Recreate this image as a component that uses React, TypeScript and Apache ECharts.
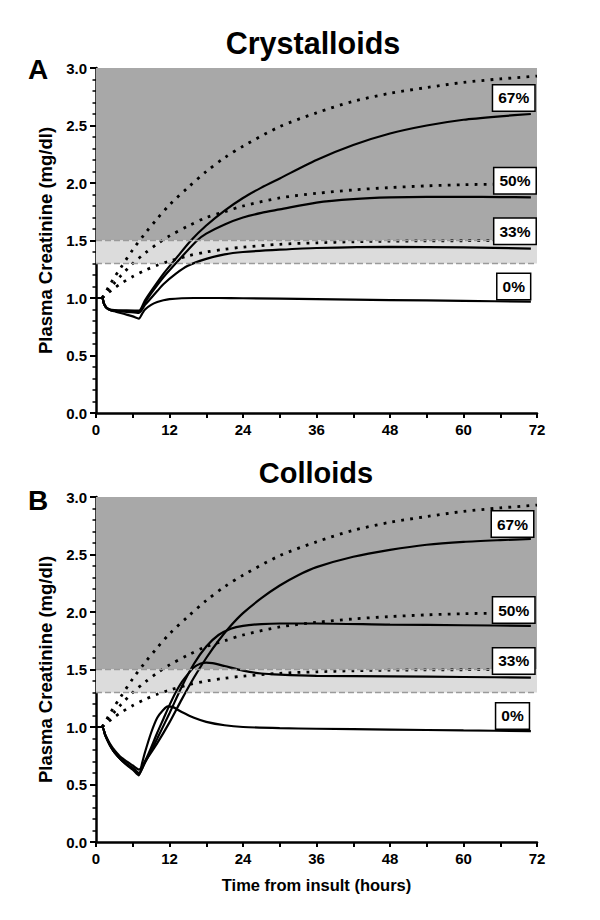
import React, { useEffect, useRef } from "react";
import * as echarts from "echarts";

// ---------- Data ----------
const xTicksLabelEvery = 12;

// Dotted reference curves (same for both panels): [time, creatinine]
const dotted67: number[][] = [[1,1.0],[2,1.09],[3,1.18],[4,1.26],[6,1.42],[8,1.56],[10,1.69],[12,1.81],[15,1.96],[18,2.1],[21,2.22],[24,2.32],[30,2.49],[36,2.61],[42,2.71],[48,2.78],[54,2.83],[60,2.875],[66,2.905],[72,2.93]];
const dotted50: number[][] = [[1,1.0],[2,1.07],[3,1.13],[4,1.19],[6,1.3],[8,1.39],[10,1.47],[12,1.54],[15,1.625],[18,1.7],[21,1.75],[24,1.8],[30,1.87],[36,1.91],[42,1.94],[48,1.96],[54,1.975],[60,1.985],[66,1.99],[72,1.993]];
const dotted33: number[][] = [[1,1.0],[2,1.045],[3,1.086],[4,1.123],[6,1.187],[8,1.24],[10,1.285],[12,1.32],[15,1.366],[18,1.4],[21,1.424],[24,1.442],[30,1.467],[36,1.48],[42,1.489],[48,1.494],[54,1.497],[60,1.498],[72,1.5]];

// Panel A: Crystalloids
const cryst0: number[][] = [[0,1.0],[1,1.0],[1.3,0.95],[1.7,0.915],[2.3,0.895],[3,0.885],[4,0.87],[5,0.855],[6,0.84],[7,0.82],[7.5,0.86],[8,0.9],[9,0.94],[10,0.965],[11,0.98],[12,0.99],[14,0.998],[16,1.0],[20,1.0],[24,0.998],[36,0.99],[48,0.982],[60,0.975],[71,0.968]];
const cryst33: number[][] = [[0,1.0],[1,1.0],[1.3,0.95],[1.7,0.915],[2.3,0.895],[3,0.887],[5,0.88],[7,0.87],[8,0.94],[9,1.0],[10,1.06],[11,1.12],[13,1.21],[15,1.28],[18,1.34],[21,1.38],[24,1.4],[30,1.42],[36,1.435],[48,1.445],[60,1.44],[71,1.43]];
const cryst50: number[][] = [[0,1.0],[1,1.0],[1.3,0.95],[1.7,0.915],[2.3,0.897],[3,0.89],[5,0.885],[7,0.88],[8,0.96],[9,1.04],[11,1.18],[13,1.3],[16.5,1.5],[18,1.56],[21,1.64],[24,1.7],[27,1.74],[30,1.77],[36,1.83],[42,1.86],[48,1.875],[54,1.88],[60,1.88],[66,1.878],[71,1.875]];
const cryst67: number[][] = [[0,1.0],[1,1.0],[1.3,0.95],[1.7,0.918],[2.3,0.9],[3,0.895],[5,0.892],[7,0.89],[8,0.98],[9,1.06],[11,1.21],[13,1.34],[15.5,1.5],[18,1.63],[21,1.76],[24,1.87],[27,1.96],[30,2.04],[36,2.2],[42,2.33],[48,2.43],[54,2.5],[60,2.55],[66,2.58],[71,2.6]];

// Panel B: Colloids
const coll0: number[][] = [[0,1.0],[1,1.0],[1.5,0.93],[2,0.87],[2.5,0.82],[3,0.78],[4,0.72],[5,0.67],[6,0.63],[7,0.58],[7.5,0.68],[8,0.78],[9,0.95],[10,1.08],[11,1.15],[11.7,1.18],[12.5,1.175],[14,1.13],[16,1.08],[18,1.045],[21,1.015],[24,1.0],[30,0.99],[36,0.985],[48,0.978],[60,0.97],[71,0.965]];
const coll33: number[][] = [[0,1.0],[1,1.0],[1.5,0.93],[2,0.87],[2.5,0.82],[3,0.78],[4,0.72],[5,0.675],[6,0.635],[7,0.59],[8,0.7],[9,0.82],[10,0.95],[11,1.07],[12,1.19],[13,1.3],[14,1.39],[15,1.46],[16,1.52],[17,1.55],[18,1.56],[19,1.555],[21,1.53],[24,1.49],[27,1.465],[30,1.455],[36,1.445],[48,1.44],[60,1.435],[71,1.43]];
const coll50: number[][] = [[0,1.0],[1,1.0],[1.5,0.93],[2,0.875],[2.5,0.825],[3,0.785],[4,0.725],[5,0.68],[6,0.645],[7,0.6],[8,0.69],[10,0.9],[12,1.12],[14,1.35],[16,1.55],[18,1.7],[20,1.8],[22,1.855],[24,1.88],[27,1.895],[30,1.9],[36,1.9],[48,1.89],[60,1.885],[71,1.88]];
const coll67: number[][] = [[0,1.0],[1,1.0],[1.5,0.935],[2,0.88],[2.5,0.835],[3,0.8],[4,0.74],[5,0.7],[6,0.665],[7,0.63],[8,0.7],[10,0.86],[12,1.04],[14,1.24],[16,1.43],[18,1.6],[20,1.75],[22,1.88],[24,1.99],[27,2.12],[30,2.23],[33,2.32],[36,2.39],[42,2.48],[48,2.54],[54,2.585],[60,2.61],[66,2.625],[71,2.635]];

// Percentage labels [time, value, text]
const labelsA: (number | string)[][] = [[68.2, 2.74, "67%"], [68.4, 2.02, "50%"], [68.4, 1.58, "33%"], [68.2, 1.1, "0%"]];
const labelsB: (number | string)[][] = [[68.0, 2.765, "67%"], [68.2, 2.017, "50%"], [68.2, 1.574, "33%"], [68.0, 1.096, "0%"]];

const panelTitles = ["Crystalloids", "Colloids"];
const panelLetters = ["A", "B"];
const yName = "Plasma Creatinine (mg/dl)";
const xName = "Time from insult (hours)";

const FONT = "'Liberation Sans', Arial, sans-serif";

function makeAxes(gi: number, showName: boolean) {
  const x = {
    type: "value",
    gridIndex: gi,
    min: 0,
    max: 72,
    interval: 6,
    name: showName ? xName : "",
    nameLocation: "middle",
    nameGap: 34,
    nameTextStyle: { fontFamily: FONT, fontWeight: "bold", fontSize: 16.5, color: "#000" },
    axisLine: { show: true, lineStyle: { color: "#000", width: 2.5 } },
    axisTick: { show: true, length: 5, lineStyle: { color: "#000", width: 2 } },
    axisLabel: {
      margin: 9,
      fontFamily: FONT,
      fontWeight: "bold",
      fontSize: 15,
      color: "#000",
      formatter: (v: number) => (v % xTicksLabelEvery === 0 ? String(v) : ""),
    },
    splitLine: { show: false },
  };
  const y = {
    type: "value",
    gridIndex: gi,
    min: 0,
    max: 3,
    interval: 0.5,
    name: yName,
    nameLocation: "middle",
    nameGap: 38,
    nameTextStyle: { fontFamily: FONT, fontWeight: "bold", fontSize: 18.5, color: "#000" },
    axisLine: { show: true, lineStyle: { color: "#000", width: 2.5 } },
    axisTick: { show: true, length: 6, lineStyle: { color: "#000", width: 2 } },
    minorTick: { show: true, splitNumber: 5, length: 3.5, lineStyle: { color: "#000", width: 1.5 } },
    axisLabel: {
      margin: 9,
      fontFamily: FONT,
      fontWeight: "bold",
      fontSize: 15,
      color: "#000",
      formatter: (v: number) => v.toFixed(1),
    },
    splitLine: { show: false },
  };
  return { x, y };
}

function panelSeries(gi: number, solids: number[][][], labels: (number | string)[][]) {
  const out: any[] = [];
  // background bands
  out.push({
    type: "line",
    xAxisIndex: gi,
    yAxisIndex: gi,
    data: [],
    silent: true,
    z: 1,
    markArea: {
      silent: true,
      data: [
        [{ xAxis: 0, yAxis: 1.5, itemStyle: { color: "#a8a8a8" } }, { xAxis: 72, yAxis: 3 }],
        [{ xAxis: 0, yAxis: 1.3, itemStyle: { color: "#dcdcdc" } }, { xAxis: 72, yAxis: 1.5 }],
      ],
    },
    markLine: {
      silent: true,
      symbol: "none",
      label: { show: false },
      lineStyle: { color: "#9a9a9a", type: [6, 3], width: 1.3 },
      data: [{ yAxis: 1.3 }, { yAxis: 1.5 }],
    },
  });
  for (const d of [dotted67, dotted50, dotted33]) {
    out.push({
      type: "line",
      xAxisIndex: gi,
      yAxisIndex: gi,
      data: d,
      smooth: 0.3,
      showSymbol: false,
      symbol: "none",
      z: 3,
      lineStyle: { color: "#000", width: 2.8, type: [2.8, 6.2], cap: "butt" },
    });
  }
  for (const d of solids) {
    out.push({
      type: "line",
      xAxisIndex: gi,
      yAxisIndex: gi,
      data: d,
      smooth: 0.25,
      showSymbol: false,
      symbol: "none",
      z: 4,
      lineStyle: { color: "#000", width: 2.2 },
    });
  }
  out.push({
    type: "scatter",
    xAxisIndex: gi,
    yAxisIndex: gi,
    data: labels,
    symbolSize: 0,
    z: 6,
    itemStyle: { opacity: 1 },
    label: {
      show: true,
      position: "inside",
      opacity: 1,
      formatter: (p: any) => p.value[2],
      fontFamily: FONT,
      fontWeight: "bold",
      fontSize: 15.5,
      color: "#000",
      backgroundColor: "#ffffff",
      borderColor: "#000",
      borderWidth: 1.5,
      padding: [5, 5, 4, 5],
    },
  });
  return out;
}

export default function App() {
  const ref = useRef<HTMLDivElement>(null);
  useEffect(() => {
    if (!ref.current) return;
    const chart = echarts.init(ref.current, undefined, { renderer: "svg" });
    const a = makeAxes(0, false);
    const b = makeAxes(1, true);
    const titleStyle = (t: string, x: number, y: number, size: number) => ({
      type: "text",
      x,
      y,
      style: {
        text: t,
        fontFamily: FONT,
        fontWeight: "bold",
        fontSize: size,
        fill: "#000",
        textAlign: "center",
        textVerticalAlign: "middle",
      },
    });
    chart.setOption({
      animation: false,
      backgroundColor: "#fff",
      grid: [
        { left: 96, top: 68, width: 441, height: 345, containLabel: false },
        { left: 96, top: 497, width: 441, height: 345, containLabel: false },
      ],
      xAxis: [a.x, b.x],
      yAxis: [a.y, b.y],
      graphic: [
        titleStyle(panelTitles[0], 313, 43, 30.5),
        titleStyle(panelTitles[1], 316, 473, 29),
        titleStyle(panelLetters[0], 38, 69, 28),
        titleStyle(panelLetters[1], 38, 500, 28),
      ],
      series: [
        ...panelSeries(0, [cryst0, cryst33, cryst50, cryst67], labelsA),
        ...panelSeries(1, [coll0, coll33, coll50, coll67], labelsB),
      ],
    });
    return () => chart.dispose();
  }, []);
  return (
    <div
      ref={ref}
      style={{ position: "absolute", left: 0, top: 0, width: 600, height: 920, background: "#fff" }}
    />
  );
}
